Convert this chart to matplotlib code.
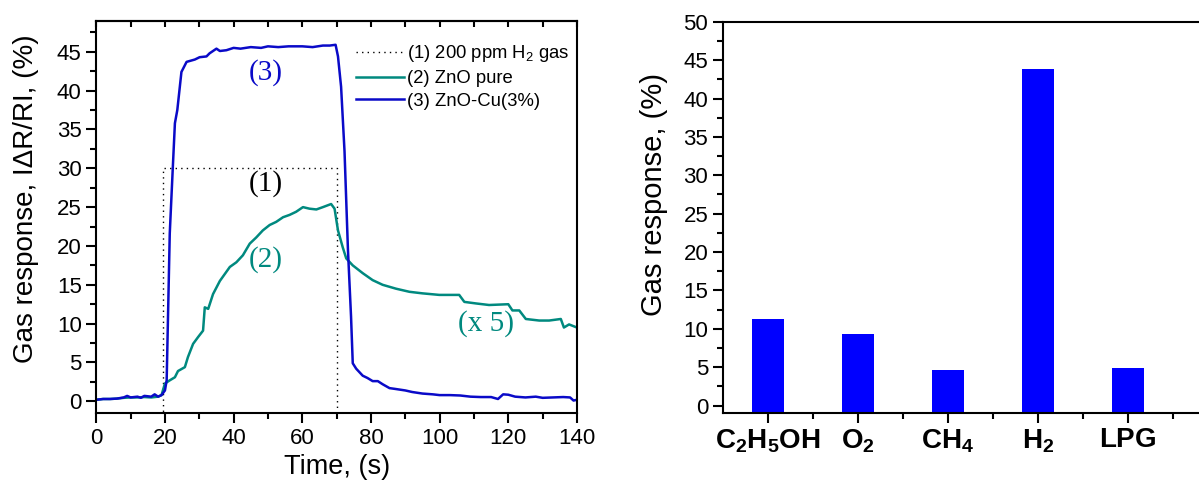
import matplotlib
matplotlib.use('Agg')
import matplotlib.pyplot as plt
from matplotlib.ticker import MultipleLocator, FixedLocator

plt.rcParams['font.family'] = ['Liberation Sans', 'DejaVu Sans']
plt.rcParams['mathtext.fontset'] = 'custom'
plt.rcParams['mathtext.rm'] = 'Liberation Sans'
plt.rcParams['mathtext.bf'] = 'Liberation Sans:bold'

# left panel: response vs time
t_cu = [0, 2, 4, 6, 8, 9, 10, 12, 13, 14, 16, 17, 18, 19, 20, 20.5, 21.4, 22.3, 22.9, 23.6, 24.8, 26.3,
        28.7, 30.1, 32.1, 33, 35, 36, 37.9, 40, 42, 45, 48, 50, 53, 56, 60, 63, 66, 68, 69.7, 70.4,
        71.3, 72.3, 73.3, 74.2, 74.7, 75.7, 77.6, 79, 80.5, 82, 83.4, 85.4, 87, 90, 92, 95, 98, 100,
        103, 106, 109, 112, 115, 117, 118.5, 120, 122, 125, 128, 130, 133, 136, 138, 139, 140]
r_cu = [0.2, 0.3, 0.3, 0.35, 0.5, 0.7, 0.5, 0.6, 0.45, 0.7, 0.6, 0.9, 0.6, 0.8, 1.4, 2.7, 21.6, 30.2, 35.8, 37.5, 42.4, 43.7,
        44.0, 44.3, 44.4, 44.8, 45.4, 45.1, 45.2, 45.5, 45.4, 45.6, 45.5, 45.7, 45.6, 45.7, 45.7, 45.6, 45.8, 45.8, 45.9, 44.4,
        40.5, 32.2, 19.5, 10.9, 4.9, 4.2, 3.3, 3.0, 2.6, 2.6, 2.2, 1.7, 1.6, 1.4, 1.2, 1.0, 0.9, 0.8,
        0.8, 0.75, 0.6, 0.55, 0.55, 0.3, 0.9, 0.85, 0.6, 0.5, 0.6, 0.45, 0.5, 0.55, 0.5, 0.1, 0.2]

t_zno = [0, 2, 4, 6, 8, 10, 12, 14, 16, 18, 19, 20, 21.4, 22.9, 23.8, 25.8, 26.7, 28.2, 29.7, 31.1, 31.6,
         32.6, 34, 36, 38.9, 40.8, 42.7, 44.7, 46.6, 48.5, 50.5, 52.4, 54.4, 56.3, 58.2, 60.2, 62.1, 64.1,
         66, 68.4, 69.4, 70.4, 71.8, 72.8, 74.7, 77.6, 80.5, 83.4, 87.3, 91.2, 95, 99.9, 105.7, 107.2,
         110.6, 114.4, 120, 121.2, 123.2, 125.1, 129, 131.9, 135.3, 136.2, 137.7, 140]
r_zno = [0.2, 0.3, 0.3, 0.35, 0.45, 0.5, 0.5, 0.55, 0.5, 0.6, 0.8, 2.3, 2.7, 3.1, 3.9, 4.4, 5.7, 7.4, 8.3, 9.1, 12.1,
         11.9, 13.8, 15.5, 17.3, 17.9, 18.8, 20.3, 21.1, 22.0, 22.7, 23.1, 23.7, 24.0, 24.4, 25.0, 24.8, 24.7,
         25.0, 25.4, 24.8, 22.0, 19.8, 18.4, 17.5, 16.5, 15.6, 15.0, 14.5, 14.1, 13.9, 13.7, 13.7, 12.8,
         12.6, 12.4, 12.5, 11.7, 11.7, 10.6, 10.4, 10.4, 10.6, 9.5, 9.9, 9.5]

t_gas = [19.5, 19.5, 70.2, 70.2]
r_gas = [-2, 30, 30, -2]

# right panel: response to different gases
gases = [r'$\mathbf{C_2H_5OH}$', r'$\mathbf{O_2}$', r'$\mathbf{CH_4}$', r'$\mathbf{H_2}$', r'$\mathbf{LPG}$']
gas_resp = [11.3, 9.3, 4.7, 43.9, 4.9]

teal = '#00897F'
blue = '#0A0AC8'

fig = plt.figure(figsize=(11.99, 4.87), dpi=100)
ax1 = fig.add_axes([0.0803, 0.152, 0.4009, 0.8055])
ax2 = fig.add_axes([0.6028, 0.1513, 0.3972, 0.8041])

ax1.plot(t_gas, r_gas, color='black', ls=(0, (1, 3)), lw=1.0, label='(1) 200 ppm H$_2$ gas')
ax1.plot(t_zno, r_zno, color=teal, lw=1.8, label='(2) ZnO pure')
ax1.plot(t_cu, r_cu, color=blue, lw=1.8, label='(3) ZnO-Cu(3%)')
ax1.set_xlim(0, 140)
ax1.set_ylim(-1.5, 49)
ax1.xaxis.set_major_locator(MultipleLocator(20))
ax1.xaxis.set_minor_locator(MultipleLocator(10))
ax1.yaxis.set_major_locator(FixedLocator(range(0, 50, 5)))
ax1.yaxis.set_minor_locator(MultipleLocator(2.5))
ax1.tick_params(which='major', direction='out', length=7, width=1.5, labelsize=16)
ax1.tick_params(which='minor', direction='out', length=4, width=1.5)
top = ax1.secondary_xaxis('top')
top.xaxis.set_major_locator(MultipleLocator(10))
top.tick_params(direction='in', length=4, width=1.5, labeltop=False)
for s in ax1.spines.values():
    s.set_linewidth(1.5)
top.spines['top'].set_linewidth(1.5)
ax1.set_xlabel('Time, (s)', fontsize=19.5, labelpad=4)
ax1.set_ylabel('Gas response, I\u0394R/RI, (%)', fontsize=20)
ax1.yaxis.set_label_coords(-0.12, 0.545)
ax1.legend(loc='upper right', frameon=False, fontsize=13.3, handlelength=2.6, handletextpad=0.2,
           labelspacing=0.3, borderaxespad=0.3, bbox_to_anchor=(1.012, 0.975))
ax1.text(49.3, 42.3, '(3)', color=blue, fontsize=21, family='Liberation Serif', ha='center', va='center')
ax1.text(49.3, 28.1, '(1)', color='black', fontsize=21, family='Liberation Serif', ha='center', va='center')
ax1.text(49.3, 18.2, '(2)', color=teal, fontsize=21, family='Liberation Serif', ha='center', va='center')
ax1.text(113.6, 10.0, '(x 5)', color=teal, fontsize=21, family='Liberation Serif', ha='center', va='center')

pos = list(range(1, len(gases) + 1))
ax2.bar(pos, [v + 1 for v in gas_resp], bottom=-1, width=0.36, color='#0000FF')
ax2.set_xlim(0.5, 5.79)
ax2.set_ylim(-1, 50)
ax2.set_xticks(pos)
ax2.xaxis.set_minor_locator(FixedLocator([p + 0.5 for p in pos]))
ax2.yaxis.set_major_locator(MultipleLocator(5))
ax2.yaxis.set_minor_locator(MultipleLocator(2.5))
ax2.tick_params(which='major', direction='out', length=7, width=1.5)
ax2.tick_params(which='minor', direction='out', length=4, width=1.5)
ax2.tick_params(axis='y', labelsize=16)
ax2.set_xticklabels(gases, fontsize=20)
ax2.tick_params(axis='x', which='major', pad=3)
ax2.spines['right'].set_visible(False)
for s in ['left', 'bottom', 'top']:
    ax2.spines[s].set_linewidth(1.5)
ax2.set_ylabel('Gas response, (%)', fontsize=21)
ax2.yaxis.set_label_coords(-0.115, 0.56)

fig.savefig('out.png', dpi=100)
